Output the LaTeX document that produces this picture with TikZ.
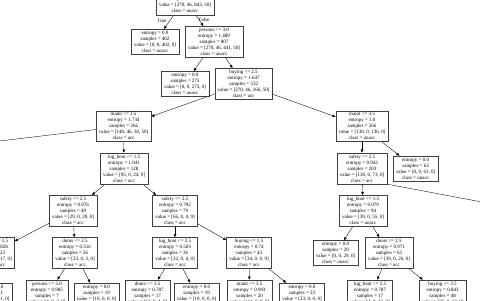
\documentclass[tikz,border=0pt]{standalone}
\usepackage{fontspec}
\setmainfont{Liberation Serif}
\usetikzlibrary{arrows.meta}
\pgfdeclarelayer{edgelayer}
\pgfdeclarelayer{nodelayer}
\pgfsetlayers{edgelayer,nodelayer,main}
\newcommand{\treefont}{\fontsize{7.1}{8.54}\selectfont}
\tikzstyle{branch}=[draw=black, line width=0.5pt, -{Triangle[length=4.5pt, width=3.6pt]}]
\tikzstyle{treenode}=[rectangle, fill=white, draw=black!75, line width=0.6pt, align=center, font=\treefont, inner xsep=4pt, inner ysep=2.5pt]
\tikzstyle{branchlabel}=[font=\treefont, inner sep=0pt]

\begin{document}
\begin{tikzpicture}
	\useasboundingbox (0, 0) rectangle (24, -15);
	\begin{pgfonlayer}{nodelayer}
		\node [style=treenode] (0) at (9.25, 0.04) {safety <= 1.5\\entropy = 1.215\\samples = 1209\\value = [270, 46, 843, 50]\\class = unacc};
		\node [style=treenode] (1) at (7.75, -2.08) {entropy = 0.0\\samples = 402\\value = [0, 0, 402, 0]\\class = unacc};
		\node [style=treenode] (2) at (10.7, -2.08) {persons <= 3.0\\entropy = 1.489\\samples = 807\\value = [270, 46, 441, 50]\\class = unacc};
		\node [style=treenode] (3) at (9.25, -4.19) {entropy = 0.0\\samples = 275\\value = [0, 0, 275, 0]\\class = unacc};
		\node [style=treenode] (4) at (12.18, -4.19) {buying <= 2.5\\entropy = 1.647\\samples = 532\\value = [270, 46, 166, 50]\\class = acc};
		\node [style=treenode] (5) at (6.18, -6.31) {maint <= 2.5\\entropy = 1.734\\samples = 266\\value = [140, 46, 30, 50]\\class = acc};
		\node [style=treenode] (6) at (18.1, -6.31) {maint <= 3.5\\entropy = 1.0\\samples = 266\\value = [130, 0, 136, 0]\\class = unacc};
		\coordinate (7) at (-11.5, -8.42);
		\node [style=treenode] (8) at (6.2, -8.42) {lug\_boot <= 1.5\\entropy = 1.041\\samples = 128\\value = [95, 0, 24, 9]\\class = acc};
		\node [style=treenode] (9) at (18.1, -8.42) {safety <= 2.5\\entropy = 0.942\\samples = 203\\value = [130, 0, 73, 0]\\class = acc};
		\node [style=treenode] (10) at (20.78, -8.42) {entropy = 0.0\\samples = 63\\value = [0, 0, 63, 0]\\class = unacc};
		\node [style=treenode] (11) at (3.65, -10.54) {safety <= 2.5\\entropy = 0.976\\samples = 49\\value = [29, 0, 20, 0]\\class = acc};
		\node [style=treenode] (12) at (8.75, -10.54) {safety <= 2.5\\entropy = 0.792\\samples = 79\\value = [66, 0, 4, 9]\\class = acc};
		\node [style=treenode] (13) at (18.15, -10.54) {lug\_boot <= 1.5\\entropy = 0.979\\samples = 94\\value = [39, 0, 55, 0]\\class = unacc};
		\coordinate (14) at (26.75, -10.6);
		\node [style=treenode] (15) at (-0.4, -12.65) {lug\_boot <= 1.5\\entropy = 0.828\\samples = 23\\value = [6, 0, 17, 0]\\class = unacc};
		\node [style=treenode] (16) at (3.75, -12.65) {doors <= 2.5\\entropy = 0.516\\samples = 26\\value = [23, 0, 3, 0]\\class = acc};
		\node [style=treenode] (17) at (8.75, -12.65) {lug\_boot <= 2.5\\entropy = 0.503\\samples = 36\\value = [32, 0, 4, 0]\\class = acc};
		\node [style=treenode] (18) at (12.45, -12.65) {buying <= 1.5\\entropy = 0.74\\samples = 43\\value = [34, 0, 0, 9]\\class = acc};
		\node [style=treenode] (19) at (16.78, -12.65) {entropy = 0.0\\samples = 29\\value = [0, 0, 29, 0]\\class = unacc};
		\node [style=treenode] (20) at (19.45, -12.65) {doors <= 2.5\\entropy = 0.971\\samples = 65\\value = [39, 0, 26, 0]\\class = acc};
		\node [style=treenode] (21) at (-0.5, -14.77) {entropy = 0.0\\samples = 11\\value = [0, 0, 11, 0]\\class = unacc};
		\node [style=treenode] (22) at (2.35, -14.77) {persons <= 5.0\\entropy = 0.985\\samples = 7\\value = [4, 0, 3, 0]\\class = acc};
		\node [style=treenode] (23) at (4.83, -14.77) {entropy = 0.0\\samples = 19\\value = [19, 0, 0, 0]\\class = acc};
		\node [style=treenode] (24) at (7.38, -14.77) {doors <= 3.5\\entropy = 0.787\\samples = 17\\value = [13, 0, 4, 0]\\class = acc};
		\node [style=treenode] (25) at (9.83, -14.77) {entropy = 0.0\\samples = 19\\value = [19, 0, 0, 0]\\class = acc};
		\node [style=treenode] (26) at (12.48, -14.77) {maint <= 3.5\\entropy = 0.993\\samples = 20\\value = [11, 0, 0, 9]\\class = acc};
		\node [style=treenode] (27) at (15.1, -14.77) {entropy = 0.0\\samples = 23\\value = [23, 0, 0, 0]\\class = acc};
		\node [style=treenode] (28) at (18.5, -14.77) {lug\_boot <= 2.5\\entropy = 0.787\\samples = 17\\value = [4, 0, 13, 0]\\class = unacc};
		\node [style=treenode] (29) at (22.13, -14.77) {buying <= 3.5\\entropy = 0.843\\samples = 48\\value = [35, 0, 13, 0]\\class = acc};
		\node [style=branchlabel] (t) at (8.1, -1.05) {True};
		\node [style=branchlabel] (f) at (10.2, -0.98) {False};
	\end{pgfonlayer}
	\begin{pgfonlayer}{edgelayer}
		\draw [style=branch] (0) to (1);
		\draw [style=branch] (0) to (2);
		\draw [style=branch] (2) to (3);
		\draw [style=branch] (2) to (4);
		\draw [style=branch] (4) to (5);
		\draw [style=branch] (4) to (6);
		\draw [style=branch] (5) to (7);
		\draw [style=branch] (5) to (8);
		\draw [style=branch] (6) to (9);
		\draw [style=branch] (6) to (10);
		\draw [style=branch] (8) to (11);
		\draw [style=branch] (8) to (12);
		\draw [style=branch] (9) to (13);
		\draw [style=branch] (9.south east) to (14);
		\draw [style=branch] (11) to (15);
		\draw [style=branch] (11) to (16);
		\draw [style=branch] (12) to (17);
		\draw [style=branch] (12) to (18);
		\draw [style=branch] (13) to (19);
		\draw [style=branch] (13) to (20);
		\draw [style=branch] (15) to (21);
		\draw [style=branch] (16) to (22);
		\draw [style=branch] (16) to (23);
		\draw [style=branch] (17) to (24);
		\draw [style=branch] (17) to (25);
		\draw [style=branch] (18) to (26);
		\draw [style=branch] (18) to (27);
		\draw [style=branch] (20) to (28);
		\draw [style=branch] (20) to (29);
	\end{pgfonlayer}
\end{tikzpicture}
\end{document}
